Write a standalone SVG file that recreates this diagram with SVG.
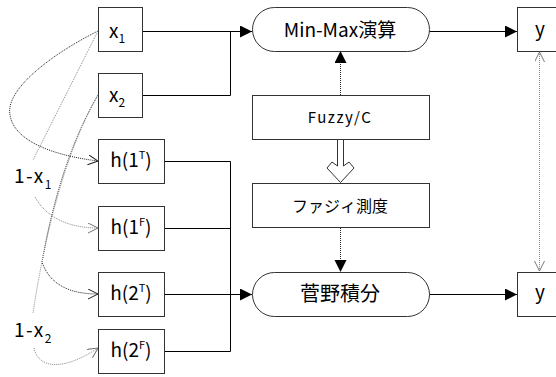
<svg xmlns="http://www.w3.org/2000/svg" width="556" height="377" viewBox="0 0 556 377">
<style>
.box{fill:#fff;stroke:#333;stroke-width:1}
.ln{fill:none;stroke:#000;stroke-width:1}
.dk{fill:none;stroke:#222;stroke-width:1;stroke-dasharray:1 1}
.gr{fill:none;stroke:#888;stroke-width:1;stroke-dasharray:1 1}
text{font-family:"Noto Sans CJK JP","DejaVu Sans",sans-serif;fill:#000}
.c{text-anchor:middle}
</style>
<defs>
<marker id="fa" markerUnits="userSpaceOnUse" markerWidth="13" markerHeight="13" refX="12" refY="6" orient="auto"><path d="M0,0 L12,6 L0,12 z" fill="#000"/></marker>
<marker id="oa" markerUnits="userSpaceOnUse" markerWidth="12" markerHeight="12" refX="10" refY="5" orient="auto-start-reverse"><path d="M0,0 L10,5 L0,10" fill="none" stroke="#222" stroke-width="1"/></marker>
<marker id="og" markerUnits="userSpaceOnUse" markerWidth="12" markerHeight="12" refX="10" refY="5" orient="auto-start-reverse"><path d="M0,0 L10,5 L0,10" fill="none" stroke="#777" stroke-width="1"/></marker>
</defs>

<g id="connectors">
<path class="ln" d="M142,31.5 H252" marker-end="url(#fa)"/>
<path class="ln" d="M142,95.5 H230.5 V31.5"/>
<path class="ln" d="M164,161.5 H230.5 M164,228.5 H230.5 M164,351.5 H230.5 M230.5,161.5 V351.5"/>
<path class="ln" d="M164,294.5 H252" marker-end="url(#fa)"/>
<path class="ln" d="M429,31.5 H517" marker-end="url(#fa)"/>
<path class="ln" d="M429,294.5 H517" marker-end="url(#fa)"/>
<path class="dk" d="M340.5,95 V51" marker-end="url(#fa)"/>
<path class="dk" d="M340.5,228 V272" marker-end="url(#fa)"/>
<path class="gr" d="M539.5,52 V271" marker-start="url(#og)" marker-end="url(#og)"/>
<path d="M337.5,139.5 V166 L332,162 L327,168 L340.5,182.5 L354,168 L349,162 L343.5,166 V139.5" fill="#fff" stroke="#333" stroke-width="1"/>
<path class="dk" d="M98,31 C50,55 5,90 10,115 C14,140 50,155 98,161" marker-end="url(#oa)"/>
<path class="gr" d="M98,31 L33,160"/>
<path class="gr" d="M35,197 C45,215 65,228 98,228" marker-end="url(#og)"/>
<path class="dk" d="M98,95 Q60,160 42,262 C50,285 70,294 98,294" marker-end="url(#oa)"/>
<path class="gr" d="M98,95 Q55,170 33,313"/>
<path class="gr" d="M34,348 C38,368 62,372 98,348" marker-end="url(#og)"/>
</g>

<g id="x1"><rect class="box" x="98.5" y="7.5" width="44" height="44"/><text x="109" y="38" font-size="19">x<tspan font-size="12" dy="5">1</tspan></text></g>
<g id="x2"><rect class="box" x="98.5" y="73.5" width="44" height="44"/><text x="109" y="102" font-size="19">x<tspan font-size="12" dy="5">2</tspan></text></g>
<g id="h1T"><rect class="box" x="98.5" y="139.5" width="66" height="44"/><text class="c" x="131" y="167" font-size="19">h(1<tspan font-size="11" dy="-8">T</tspan><tspan dy="8">)</tspan></text></g>
<g id="h1F"><rect class="box" x="98.5" y="206.5" width="66" height="44"/><text class="c" x="131" y="234" font-size="19">h(1<tspan font-size="11" dy="-8">F</tspan><tspan dy="8">)</tspan></text></g>
<g id="h2T"><rect class="box" x="98.5" y="272.5" width="66" height="44"/><text class="c" x="131" y="300" font-size="19">h(2<tspan font-size="11" dy="-8">T</tspan><tspan dy="8">)</tspan></text></g>
<g id="h2F"><rect class="box" x="98.5" y="329.5" width="66" height="44"/><text class="c" x="131" y="357" font-size="19">h(2<tspan font-size="11" dy="-8">F</tspan><tspan dy="8">)</tspan></text></g>
<g id="minmax"><rect class="box" x="252.5" y="7.5" width="177" height="44" rx="22"/><text class="c" x="340" y="37" font-size="19">Min-Max演算</text></g>
<g id="fuzzyc"><rect class="box" x="252.5" y="95.5" width="177" height="44"/><text class="c" x="340" y="123" font-size="15" letter-spacing="1.5">Fuzzy/C</text></g>
<g id="measure"><rect class="box" x="252.5" y="183.5" width="177" height="44"/><text class="c" x="340" y="212" font-size="16">ファジィ測度</text></g>
<g id="sugeno"><rect class="box" x="252.5" y="272.5" width="177" height="44" rx="22"/><text class="c" x="340" y="301" font-size="20">菅野積分</text></g>
<g id="y1"><rect class="box" x="517.5" y="7.5" width="50" height="44"/><text class="c" x="540" y="36" font-size="19">y</text></g>
<g id="y2"><rect class="box" x="517.5" y="272.5" width="50" height="44"/><text class="c" x="540" y="299" font-size="19">y</text></g>
<g id="label1"><text x="14" y="183" font-size="19" letter-spacing="1.5">1-x<tspan font-size="12" dy="6">1</tspan></text></g>
<g id="label2"><text x="14" y="337" font-size="19" letter-spacing="1.5">1-x<tspan font-size="12" dy="6">2</tspan></text></g>
</svg>
